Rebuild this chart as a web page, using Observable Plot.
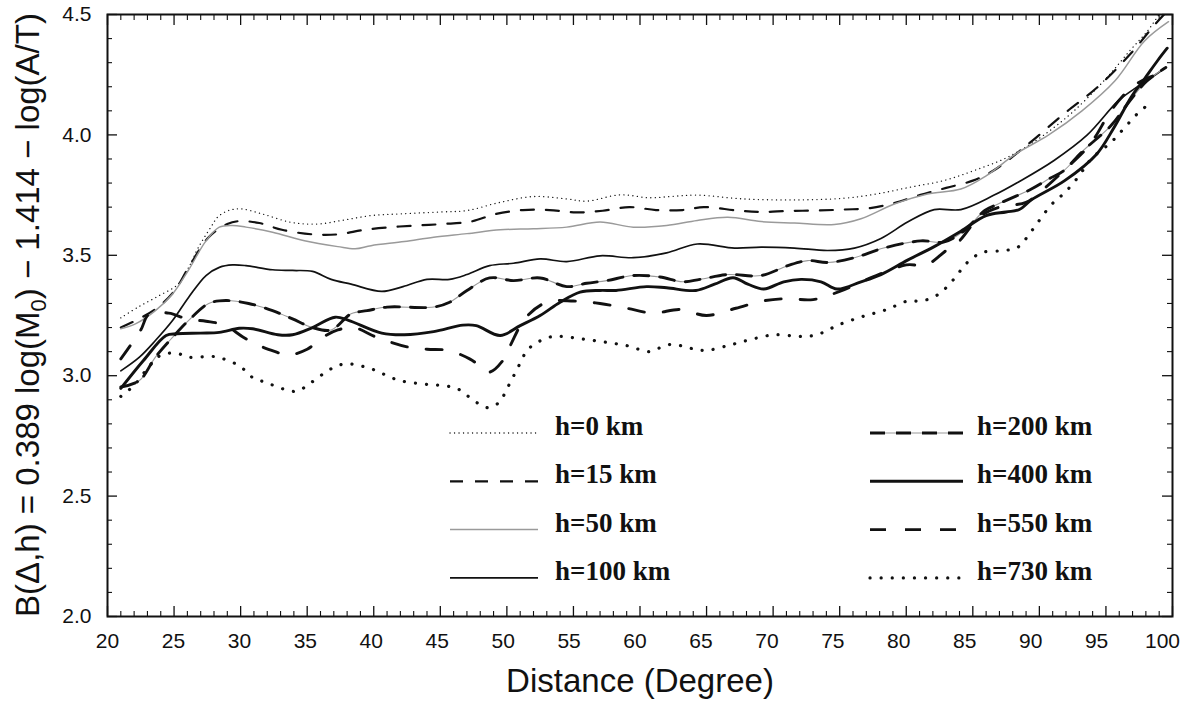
<!DOCTYPE html>
<html><head><meta charset="utf-8">
<script src="https://cdn.jsdelivr.net/npm/d3@7"></script>
<script src="https://cdn.jsdelivr.net/npm/@observablehq/plot@0.6"></script>
<style>body{margin:0;background:#fff;} svg{display:block}</style>
</head><body><div id="chart"></div>
<script>
// ---- tick labels ----
const xTicks = [20, 25, 30, 35, 40, 45, 50, 55, 60, 65, 70, 75, 80, 85, 90, 95, 100];
const yTicks = [2.0, 2.5, 3.0, 3.5, 4.0, 4.5];
const xMinor = d3.range(21, 100).filter(d => d % 5 !== 0);
const yMinor = d3.range(21, 45).filter(d => d % 5 !== 0).map(d => d / 10);

// ---- series names ----
const seriesNames = ["h=0 km", "h=15 km", "h=50 km", "h=100 km", "h=200 km", "h=400 km", "h=550 km", "h=730 km"];

// ---- series values: [distance (deg), B] ----
const h0 = [[21,3.24],[22.3,3.285],[23.8,3.33],[25.3,3.38],[26.1,3.45],[26.8,3.53],[27.8,3.62],[28.3,3.66],[29.1,3.686],[30,3.693],[31.6,3.672],[33.8,3.637],[35.8,3.63],[37.8,3.647],[39.8,3.665],[42,3.672],[45,3.68],[47,3.686],[49.5,3.72],[52,3.744],[54.5,3.734],[56,3.725],[58.5,3.751],[60.7,3.739],[62.5,3.745],[64.3,3.75],[67.8,3.734],[71.6,3.73],[75.3,3.737],[77.8,3.755],[80.3,3.783],[82.8,3.81],[85.1,3.852],[87.6,3.907],[90.1,3.99],[92.6,4.10],[95.1,4.24],[96.8,4.35],[98.1,4.43],[99,4.50],[99.8,4.56]];
const h15 = [[21,3.20],[22.5,3.24],[23.8,3.285],[25,3.35],[26.1,3.45],[27.6,3.575],[29,3.63],[29.9,3.642],[31.4,3.634],[33.1,3.606],[35.4,3.587],[37.3,3.587],[39.3,3.606],[41.3,3.617],[43.3,3.624],[45.2,3.63],[47.3,3.64],[49.2,3.672],[51.2,3.688],[53.2,3.688],[55.2,3.678],[57.2,3.685],[59.2,3.70],[61.2,3.688],[63.2,3.688],[64.8,3.70],[67.3,3.686],[69.1,3.68],[71.1,3.684],[73.3,3.686],[75.3,3.69],[77.3,3.696],[79.1,3.717],[81,3.75],[83,3.78],[85,3.81],[86.5,3.85],[88.9,3.95],[91.9,4.09],[94.4,4.20],[96.9,4.34],[98.7,4.46],[99.7,4.52]];
const h50 = [[21,3.195],[22.1,3.215],[23.6,3.27],[24.9,3.34],[26.1,3.44],[27.4,3.56],[28.4,3.617],[29.4,3.624],[30.4,3.617],[32.4,3.596],[34.8,3.56],[37.3,3.536],[38.6,3.527],[39.8,3.54],[42.3,3.557],[44.5,3.575],[47,3.59],[49.5,3.606],[52,3.61],[54.5,3.617],[57,3.638],[59.5,3.617],[62,3.624],[64.3,3.645],[66.6,3.658],[69.1,3.64],[71.6,3.634],[74.6,3.628],[76.6,3.652],[79.1,3.713],[81.6,3.755],[84.1,3.775],[86,3.83],[88.2,3.92],[90.7,4.0],[93.2,4.10],[95.7,4.226],[97.9,4.39],[99.7,4.47]];
const h100 = [[21,3.02],[22.4,3.077],[23.6,3.146],[24.9,3.23],[26.1,3.326],[27.4,3.416],[28.4,3.45],[29.4,3.46],[30.4,3.457],[32.4,3.44],[33.9,3.437],[35.4,3.433],[36.8,3.40],[38.3,3.38],[40.6,3.35],[42.2,3.37],[44,3.40],[45.7,3.40],[47,3.42],[48.7,3.457],[50.5,3.467],[52.5,3.485],[54.5,3.474],[57,3.498],[59.5,3.49],[62,3.51],[64.3,3.547],[67.1,3.53],[69.1,3.534],[71.6,3.53],[74.1,3.52],[76.1,3.53],[78.1,3.57],[80.1,3.638],[82.1,3.69],[84.1,3.69],[86.6,3.75],[88.6,3.81],[91.1,3.894],[93.6,4.0],[95.9,4.14],[97.1,4.19],[98.2,4.23],[99.5,4.28]];
const h200 = [[21,2.953],[22.4,2.98],[23.6,3.077],[24.9,3.16],[26.1,3.23],[27.6,3.30],[28.9,3.312],[30.6,3.30],[32.4,3.27],[33.9,3.236],[35.4,3.20],[36.8,3.19],[38.3,3.257],[39.5,3.27],[41,3.285],[44.5,3.285],[45.7,3.305],[47,3.354],[48.7,3.406],[50.5,3.395],[52.5,3.406],[54.5,3.37],[56,3.384],[57.5,3.395],[59.5,3.416],[61.5,3.41],[63.2,3.39],[64.5,3.40],[66.6,3.42],[69.1,3.416],[71.1,3.457],[72.6,3.478],[74.1,3.47],[76.1,3.49],[78.3,3.53],[81.1,3.56],[82.8,3.555],[84.3,3.60],[85.9,3.686],[86.9,3.713],[89.4,3.775],[90.8,3.82],[91.8,3.85],[93.2,3.93],[95.4,4.04],[96.5,4.12],[98,4.22],[99.5,4.28]];
const h400 = [[21,2.947],[22.7,3.063],[24.4,3.167],[25.2,3.174],[27,3.177],[28.4,3.18],[29.9,3.197],[30.9,3.195],[32.8,3.17],[33.9,3.17],[35.4,3.20],[37.1,3.243],[38.1,3.23],[40.6,3.177],[42.3,3.17],[44.5,3.183],[46.7,3.21],[47.7,3.208],[49.5,3.167],[51,3.208],[52.5,3.25],[54,3.305],[55.5,3.347],[57,3.354],[58.2,3.354],[60.5,3.37],[62,3.365],[64.2,3.354],[65.6,3.38],[67,3.407],[68.1,3.38],[69.3,3.36],[70.8,3.39],[72.1,3.40],[73.6,3.39],[74.8,3.36],[76.6,3.39],[78.1,3.42],[80.1,3.48],[82.1,3.536],[84.1,3.60],[86,3.665],[87.5,3.68],[88.5,3.69],[89.4,3.73],[91.9,3.81],[94.3,3.92],[95.6,4.03],[96.9,4.157],[97.9,4.233],[98.9,4.31],[99.6,4.36]];
const h550 = [[21,3.07],[22.5,3.19],[23.1,3.254],[24.6,3.26],[26,3.235],[27.4,3.226],[28.8,3.21],[30.2,3.16],[31.4,3.125],[32.6,3.10],[33.5,3.085],[35,3.11],[36.2,3.16],[37.3,3.19],[38.5,3.20],[40.2,3.16],[42.5,3.12],[44,3.11],[45.6,3.105],[47.2,3.07],[48,3.04],[48.7,3.015],[49.7,3.063],[50.3,3.13],[51.4,3.24],[53,3.305],[55,3.31],[57,3.30],[59,3.28],[61,3.26],[63,3.275],[65,3.25],[67.2,3.28],[69.2,3.31],[71,3.32],[73,3.316],[75,3.35],[77.5,3.41],[80,3.46],[81.5,3.46],[83,3.52],[84,3.56],[85.5,3.66],[87,3.70],[89,3.72],[90,3.76],[92,3.86],[93.8,3.96],[95.5,4.11],[97,4.20],[98.3,4.24],[99.5,4.26]];
const h730 = [[21,2.914],[22,2.96],[23,3.03],[24,3.085],[25.2,3.093],[26.1,3.077],[27.9,3.08],[28.7,3.07],[29.6,3.05],[30.4,3.019],[31,2.988],[31.8,2.974],[32.6,2.957],[33.5,2.94],[34.3,2.935],[35,2.96],[35.7,2.987],[36.5,3.019],[37.2,3.04],[38,3.05],[38.9,3.042],[39.8,3.029],[40.6,3.01],[41.4,2.99],[42.2,2.977],[44,2.964],[45.7,2.955],[46.5,2.94],[47.2,2.91],[48,2.88],[48.7,2.867],[49.5,2.894],[49.9,2.934],[50.3,2.977],[50.7,3.02],[51.1,3.063],[51.5,3.105],[52.2,3.135],[53,3.157],[53.8,3.164],[55.6,3.153],[57.3,3.14],[59,3.125],[60.7,3.10],[61.5,3.116],[62.3,3.13],[63.2,3.123],[64.1,3.11],[65,3.105],[66.6,3.125],[68.3,3.15],[70.1,3.17],[71.8,3.164],[72.7,3.164],[73.5,3.174],[74.3,3.195],[75.1,3.215],[76.8,3.247],[78.5,3.274],[80.1,3.31],[81,3.31],[81.8,3.32],[82.6,3.345],[83.2,3.378],[83.8,3.416],[84.3,3.453],[85,3.49],[85.8,3.513],[87.4,3.52],[88.4,3.534],[89.4,3.60],[90.9,3.71],[91.9,3.76],[92.9,3.824],[93.9,3.90],[95.4,3.97],[96.4,4.03],[97.4,4.09],[98.5,4.14]];

const seriesValues = [h0, h15, h50, h100, h200, h400, h550, h730];

// ---- styles (kept apart from data) ----
const styles = [
  {layers: [{stroke: "#111", strokeWidth: 1.3, strokeDasharray: "0.1 4.4", strokeLinecap: "round"}]},
  {layers: [{stroke: "#111", strokeWidth: 2.2, strokeDasharray: "13 12"}]},
  {layers: [{stroke: "#9a9a9a", strokeWidth: 1.5}]},
  {layers: [{stroke: "#111", strokeWidth: 1.7}]},
  {layers: [{stroke: "#9a9a9a", strokeWidth: 1.1}, {stroke: "#111", strokeWidth: 2.9, strokeDasharray: "15 11"}]},
  {layers: [{stroke: "#111", strokeWidth: 2.9}]},
  {layers: [{stroke: "#111", strokeWidth: 2.9, strokeDasharray: "16 19"}]},
  {layers: [{stroke: "#111", strokeWidth: 3.2, strokeDasharray: "0.1 11", strokeLinecap: "round"}]}
];

const table = seriesNames.map((name, i) => seriesValues[i].map(([d, v]) => ({name, d, v})));

const W = 1185, H = 702, mL = 107, mR = 13, mT = 14, mB = 86;
const fw = W - mL - mR, fh = H - mT - mB;

const lineMarks = [];
table.forEach((rows, i) => {
  styles[i].layers.forEach(st => {
    lineMarks.push(Plot.line(rows, {x: "d", y: "v", curve: "catmull-rom", clip: true, strokeLinejoin: "round", ...st}));
  });
});

// x tick labels sit slightly left of their ticks toward the right end, as in the original
const xLabelMarks = xTicks.map(t =>
  Plot.axisX([t], {anchor: "bottom", tickSize: 0, tickPadding: 17, label: null, fontSize: 21,
    dx: -(t - 20) * 0.125, tickFormat: d => String(d)}));

const chart = Plot.plot({
  width: W, height: H,
  marginLeft: mL, marginRight: mR, marginTop: mT, marginBottom: mB,
  x: {domain: [20, 100]},
  y: {domain: [2.0, 4.5]},
  style: {fontFamily: "'Liberation Sans', Arial, Helvetica, sans-serif", fontSize: "21px", background: "#fff", color: "#111"},
  marks: [
    ...xLabelMarks,
    Plot.axisY(yTicks, {anchor: "left", tickSize: 0, tickPadding: 16, label: null, fontSize: 21, tickFormat: d3.format(".1f")}),
    // inward ticks on all four sides
    Plot.tickX(xTicks, {x: d => d, insetTop: fh - 10, stroke: "#111", strokeWidth: 1.3}),
    Plot.tickX(xMinor, {x: d => d, insetTop: fh - 5, stroke: "#111", strokeWidth: 1.1}),
    Plot.tickX(xTicks, {x: d => d, insetBottom: fh - 11, stroke: "#111", strokeWidth: 1.3}),
    Plot.tickX(xMinor, {x: d => d, insetBottom: fh - 6, stroke: "#111", strokeWidth: 1.1}),
    Plot.tickY(yTicks, {y: d => d, insetRight: fw - 10, stroke: "#111", strokeWidth: 1.3}),
    Plot.tickY(yMinor, {y: d => d, insetRight: fw - 5, stroke: "#111", strokeWidth: 1.1}),
    Plot.tickY(yTicks, {y: d => d, insetLeft: fw - 10, stroke: "#111", strokeWidth: 1.3}),
    Plot.tickY(yMinor, {y: d => d, insetLeft: fw - 5, stroke: "#111", strokeWidth: 1.1}),
    ...lineMarks,
    Plot.frame({stroke: "#111", strokeWidth: 2})
  ]
});
document.getElementById("chart").appendChild(chart);

// ---- axis titles ----
const svg = d3.select(chart);
svg.append("text")
  .attr("x", 640).attr("y", 692)
  .attr("text-anchor", "middle")
  .attr("font-family", "'Liberation Sans', Arial, Helvetica, sans-serif")
  .attr("font-size", 33).attr("fill", "#111")
  .text("Distance (Degree)");
const yl = svg.append("text")
  .attr("transform", "translate(39,315) rotate(-90)")
  .attr("text-anchor", "middle")
  .attr("font-family", "'Liberation Sans', Arial, Helvetica, sans-serif")
  .attr("font-size", 33).attr("fill", "#111");
yl.append("tspan").text("B(Δ,h) = 0.389 log(M");
yl.append("tspan").attr("font-size", 22).attr("dy", 7).text("0");
yl.append("tspan").attr("dy", -7).text(") \u2212 1.414 \u2212 log(A/T)");

// ---- legend ----
const legendCols = [{x1: 450, x2: 538, tx: 555}, {x1: 870, x2: 963, tx: 977}];
const lg = svg.append("g").attr("text-anchor", "start");
seriesNames.forEach((name, i) => {
  const col = legendCols[i < 4 ? 0 : 1];
  const row = i % 4;
  const base = 435 + row * 48.3;
  styles[i].layers.forEach(st => {
    lg.append("line")
      .attr("x1", col.x1).attr("x2", col.x2)
      .attr("y1", base - 2).attr("y2", base - 2)
      .attr("stroke", st.stroke).attr("stroke-width", st.strokeWidth)
      .attr("stroke-dasharray", st.strokeDasharray || null)
      .attr("stroke-linecap", st.strokeLinecap || null);
  });
  lg.append("text")
    .attr("x", col.tx).attr("y", base)
    .attr("text-anchor", "start")
    .attr("font-family", "'Liberation Serif', 'Times New Roman', serif")
    .attr("font-weight", "bold").attr("font-size", 27).attr("fill", "#111")
    .text(name);
});
</script>
</body></html>
